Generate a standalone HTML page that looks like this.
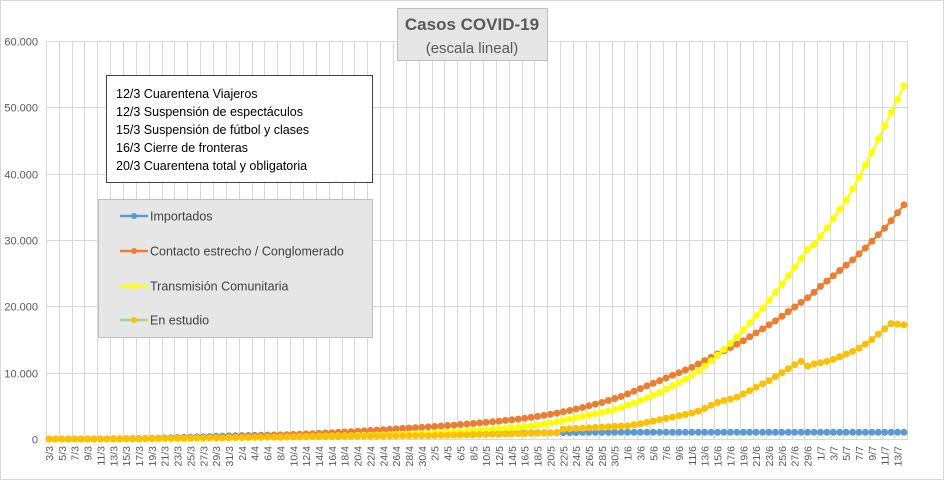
<!DOCTYPE html>
<html><head><meta charset="utf-8"><style>
body{margin:0;background:#fff;}
svg{display:block;font-family:"Liberation Sans",sans-serif;}
</style></head><body>
<svg id="chart" width="944" height="480" viewBox="0 0 944 480">
<rect x="0.5" y="0.5" width="943" height="479" fill="#fff" stroke="#d9d9d9"/>
<g id="grid"></g>
<g id="yaxis"></g>
<g id="xaxis"></g>
<g id="series"></g>
<g>
<rect x="397.5" y="8.5" width="150" height="52" fill="#e7e6e6" stroke="#bfbfbf"/>
<text x="472" y="30" text-anchor="middle" font-size="17" font-weight="bold" fill="#595959">Casos  COVID-19</text>
<text x="472" y="53" text-anchor="middle" font-size="15" fill="#595959">(escala lineal)</text>
</g>
<g font-size="12.5" fill="#000">
<rect x="106.5" y="75.5" width="266" height="107" fill="#fff" stroke="#404040"/>
<text x="116" y="98">12/3 Cuarentena Viajeros</text>
<text x="116" y="116">12/3 Suspensión de espectáculos</text>
<text x="116" y="134">15/3 Suspensión de fútbol y clases</text>
<text x="116" y="152">16/3 Cierre de fronteras</text>
<text x="116" y="170">20/3 Cuarentena total y obligatoria</text>
</g>
<g font-size="12.5" fill="#404040">
<rect x="98.5" y="199.5" width="274" height="138" fill="#e7e6e6" stroke="#bfbfbf"/>
<g><line x1="120" y1="216" x2="148" y2="216" stroke="#5b9bd5" stroke-width="2.5"/><circle cx="134" cy="216" r="3" fill="#5b9bd5"/><text x="150" y="220.5">Importados</text></g>
<g><line x1="120" y1="251" x2="148" y2="251" stroke="#ed7d31" stroke-width="2.5"/><circle cx="134" cy="251" r="3" fill="#ed7d31"/><text x="150" y="255.5">Contacto estrecho / Conglomerado</text></g>
<g><line x1="120" y1="286" x2="148" y2="286" stroke="#ffff00" stroke-width="2.5"/><circle cx="134" cy="286" r="3" fill="#ffff00"/><text x="150" y="290.5">Transmisión Comunitaria</text></g>
<g><line x1="120" y1="320" x2="148" y2="320" stroke="#a9d18e" stroke-width="2.5"/><circle cx="134" cy="320" r="3" fill="#ffc000"/><text x="150" y="324.5">En estudio</text></g>
</g>
</svg>
<script>
const yTicks=[0,10000,20000,30000,40000,50000,60000];
const yTickLabels=["0","10.000","20.000","30.000","40.000","50.000","60.000"];
const importados=[0,0,1,2,3,5,8,10,15,20,25,35,45,55,70,90,110,130,160,190,220,250,280,310,340,370,400,430,460,
490,510,530,550,570,590,600,610,620,630,640,650,660,670,680,690,700,705,710,715,720,725,730,735,740,745,750,755,760,765,
775,780,785,790,795,800,810,820,830,840,850,860,870,880,890,900,910,920,930,940,950,960,970,980,990,995,1000,1000,1000,1005,1005,
1005,1005,1005,1005,1005,1005,1005,1005,1005,1005,1005,1005,1005,1005,1005,1005,1005,1005,1005,1005,1005,1005,1005,1005,1005,1005,1005,1005,1005,1005,
1005,1005,1005,1005,1005,1005,1005,1005,1005,1005,1005,1005,1005,1005];
const contacto=[0,0,0,0,0,1,2,3,5,8,10,15,20,25,30,40,50,60,75,90,110,130,150,170,190,220,250,280,310,
340,370,400,440,480,520,560,600,640,680,720,760,800,850,900,950,1000,1050,1100,1160,1220,1280,1340,1400,1460,1520,1580,1640,1700,1760,
1820,1890,1960,2030,2100,2180,2260,2340,2420,2500,2600,2700,2800,2900,3000,3120,3250,3400,3560,3720,3900,4100,4300,4520,4750,5000,5250,5500,5800,6100,6400,
6800,7200,7600,8000,8400,8800,9200,9600,10000,10400,10800,11300,11800,12300,12800,13300,13800,14300,14800,15400,16000,16600,17200,17800,18500,19200,19900,20600,21300,22100,
23000,23800,24600,25400,26200,27000,27900,28800,29800,30800,31800,32900,34100,35300];
const comunitaria=[0,0,0,0,0,0,0,0,0,0,0,0,2,3,5,8,10,15,20,25,30,40,50,60,70,85,100,120,140,
160,180,200,220,240,260,280,300,320,340,360,380,400,420,440,460,480,500,520,540,560,580,600,620,650,680,710,740,770,800,
850,900,950,1000,1050,1100,1160,1220,1280,1350,1420,1500,1580,1660,1750,1850,1950,2050,2200,2400,2600,2800,3000,3200,3400,3600,3800,4000,4200,4450,4750,
5100,5400,5800,6200,6600,7000,7500,8000,8500,9000,9600,10200,11000,11800,12600,13500,14400,15400,16400,17500,18600,19700,20900,22100,23300,24600,25900,27200,28600,29300,
30500,31800,33200,34600,36000,37700,39500,41300,43200,45200,47200,49200,51200,53200];
const enEstudio=[0,0,0,0,0,0,2,5,8,12,15,20,30,40,50,60,80,100,110,120,130,140,150,160,170,180,190,200,210,
220,230,240,250,260,270,280,290,300,310,320,330,340,350,360,370,380,390,400,410,420,430,440,450,460,470,480,490,500,510,
520,540,560,580,600,620,640,660,680,700,720,740,760,780,800,820,840,870,900,930,1000,1500,1550,1600,1650,1700,1750,1800,1850,1900,1950,
2000,2150,2300,2500,2700,2900,3100,3300,3500,3700,3900,4200,4600,5100,5500,5800,6000,6300,6800,7300,7800,8300,8800,9400,10000,10600,11200,11700,11000,11300,
11500,11700,12000,12400,12800,13200,13700,14300,15000,15800,16600,17400,17300,17200];
// categories: daily dates 3/3 .. 14/7
const monthLens=[[3,3,31],[4,1,30],[5,1,31],[6,1,30],[7,1,14]];
const categories=[];
for(const [m,s,e] of monthLens){for(let d=s;d<=e;d++)categories.push(d+"/"+m);}

const NS="http://www.w3.org/2000/svg";
const X0=49,X1=904,Y0=439,Y1=41,YMAX=60000;
const n=categories.length;
function xPos(i){return X0+i*(X1-X0)/(n-1);}
function yPos(v){return Y0-(v/YMAX)*(Y0-Y1);}
function mk(tag,attrs,parent){const el=document.createElementNS(NS,tag);for(const k in attrs)el.setAttribute(k,attrs[k]);parent.appendChild(el);return el;}

const grid=document.getElementById('grid');
const step=(X1-X0)/(n-1);
for(let i=0;i<=n;i+=2){
  const x=Math.round(X0-step/2+i*step)+0.5;
  if(x>908)break;
  const l=mk('line',{x1:x,y1:Y1,x2:x,y2:Y0,stroke:'#d9d9d9','stroke-width':1},grid);
  
  
}
const yax=document.getElementById('yaxis');
yTicks.forEach((t,k)=>{
  const y=Math.round(yPos(t))+0.5;
  const l=mk('line',{x1:X0-3,y1:y,x2:908,y2:y,stroke:'#d9d9d9','stroke-width':1},grid);
  
  
  const tx=mk('text',{x:38,y:y+4,'text-anchor':'end','font-size':11,fill:'#595959'},yax);
  tx.textContent=yTickLabels[k];
  
  
});
const xax=document.getElementById('xaxis');
for(let i=0;i<n;i+=2){
  const x=xPos(i)+4;
  const tx=mk('text',{x:0,y:0,transform:`translate(${x},446) rotate(-90)`,'text-anchor':'end','font-size':10.5,fill:'#595959'},xax);
  tx.textContent=categories[i];
  
  
}
const sg=document.getElementById('series');
const seriesList=[["importados",importados,"#5b9bd5","#5b9bd5"],["contacto",contacto,"#ed7d31","#ed7d31"],["comunitaria",comunitaria,"#ffff00","#ffff00"],["en-estudio",enEstudio,"#a9d18e","#ffc000"]];
seriesList.forEach(([name,vals,lc,mc])=>{
  const g=mk('g',{},sg);
  
  
  const pts=vals.map((v,i)=>xPos(i).toFixed(1)+","+yPos(v).toFixed(1)).join(" ");
  const pl=mk('polyline',{points:pts,fill:'none',stroke:lc,'stroke-width':2.2},g);
  
  
  vals.forEach((v,i)=>{
    const c=mk('circle',{cx:xPos(i).toFixed(1),cy:yPos(v).toFixed(1),r:3.5,fill:mc},g);
    
    
  });
});
</script>
</body></html>
